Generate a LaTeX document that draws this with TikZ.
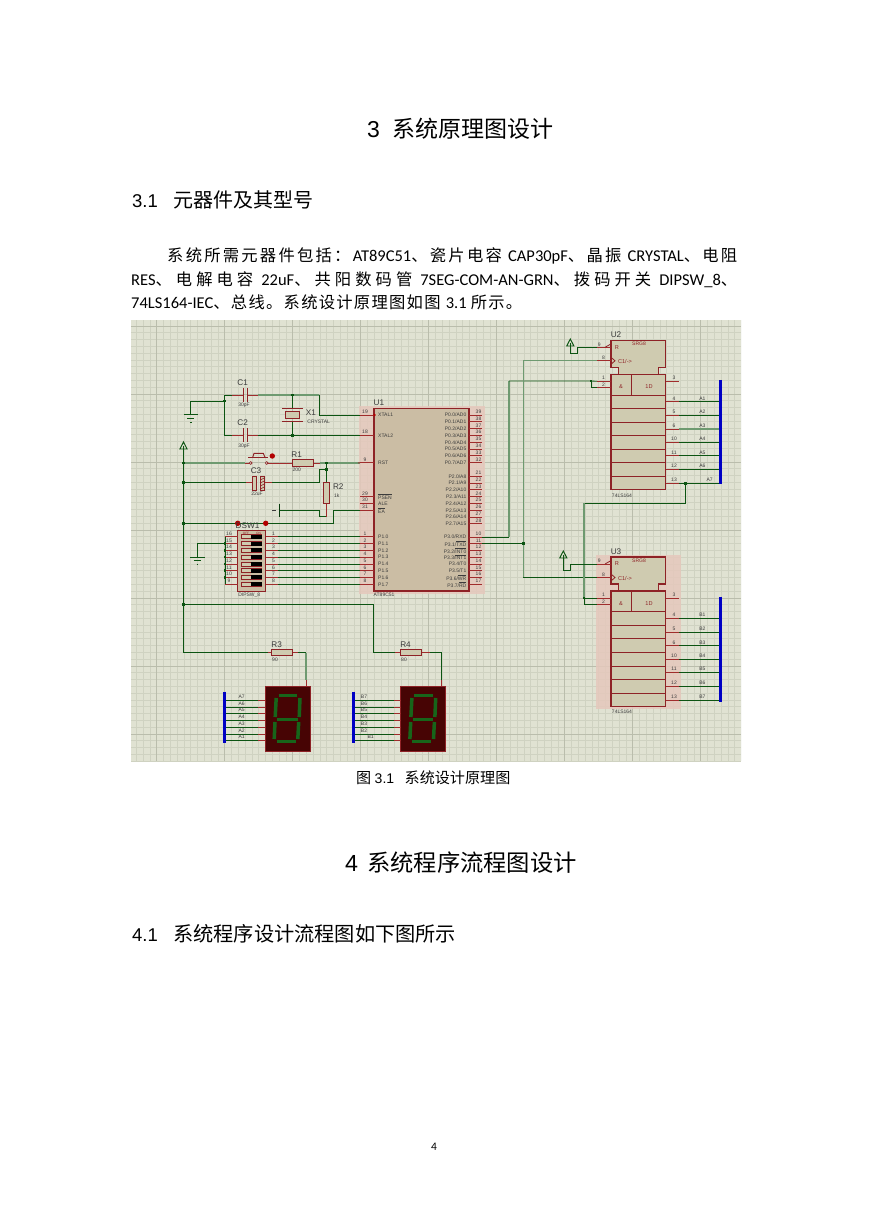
\documentclass[tikz,border=0pt]{standalone}
\usepackage{fontspec}
\usetikzlibrary{calc}
\setmainfont{Carlito}
\newfontfamily\cjkf{Noto Sans CJK SC}
\newfontfamily\schf{Liberation Sans}
\newcommand{\fsz}[1]{\fontsize{#1}{#1}\selectfont}
\newcommand{\zh}[1]{{\cjkf #1}}
\def\zsloop#1{\ifx#1\relax\else#1\hskip 0pt plus 1pt\relax\expandafter\zsloop\fi}
\newcommand{\zs}[1]{{\cjkf\fsz{16.3}\zsloop#1\relax}}
\definecolor{bgc}{HTML}{E0E2D2}
\definecolor{gridm}{HTML}{CFD2C1}
\definecolor{gridM}{HTML}{BABDAC}
\definecolor{wirec}{HTML}{0C5412}
\definecolor{wirep}{HTML}{6E9A70}
\definecolor{pinc}{HTML}{A02C2C}
\definecolor{edgec}{HTML}{8E2226}
\definecolor{chipa}{HTML}{CBBDA4}
\definecolor{chipb}{HTML}{CFCBB0}
\definecolor{busc}{HTML}{0000C4}
\definecolor{labc}{HTML}{3C3C3C}
\definecolor{segbg}{HTML}{470404}
\definecolor{segon}{HTML}{17651A}
\definecolor{haloc}{HTML}{E5C8BC}
\tikzset{
 wire/.style={draw=wirec,line width=0.85pt},
 palewire/.style={draw=wirep,line width=1.2pt},
 pinl/.style={draw=pinc,line width=0.9pt},
 busl/.style={draw=busc,line width=3pt},
 chip/.style={draw=edgec,line width=1.1pt,fill=chipb},
 comp/.style={draw=edgec,line width=1pt,fill=chipb},
 plate/.style={draw=edgec,line width=1.1pt},
 halo/.style={fill=haloc,draw=none,opacity=.85},
 ptiny/.style={font=\schf\fsz{5},text=labc,inner sep=0pt},
 psmall/.style={font=\schf\fsz{5.6},text=labc,inner sep=0pt},
 reflab/.style={font=\schf\fsz{8.2},text=labc,inner sep=0pt},
 para/.style={anchor=west,inner sep=0pt,text=black},
 rdot/.style={fill=red!70!black,draw=none},
}
\newcommand{\pwr}[3]{% name, x, y of base
 \coordinate (#1) at (#2,#3);
 \draw[wirec,line width=0.95pt] (#2,#3-7) -- (#2+3.6,#3) -- (#2-3.6,#3) -- cycle;
 \draw[wirec,line width=0.6pt] (#2,#3-3.5) -- (#2,#3);
}
\newcommand{\gndsym}[3]{%
 \coordinate (#1) at (#2,#3);
 \draw[wirec,line width=0.8pt] (#2-7.2,#3) -- (#2+7.2,#3);
 \draw[wirec,line width=0.8pt] (#2-3.4,#3+3.7) -- (#2+3.4,#3+3.7);
 \draw[wirec,line width=0.8pt] (#2-0.8,#3+7.2) -- (#2+0.8,#3+7.2);
}
\newcommand{\sevenseg}[3]{% name x y (top-left)
 \node[draw=edgec,fill=segbg,line width=0.6pt,minimum width=45pt,minimum height=65pt,inner sep=0pt,outer sep=0pt,anchor=north west] (#1) at (#2,#3) {};
 \begin{scope}[shift={(#2,#3)},segon,line width=3.5pt]
  \draw (13.5,9.3) -- (32.3,9.3);
  \draw (12,33.3) -- (32.5,33.3);
  \draw (11.5,55.7) -- (30.5,55.7);
  \draw (11.2,12) -- (10.2,31);
  \draw (10,36) -- (9.2,53);
  \draw (35,12) -- (34.2,31);
  \draw (33.7,36) -- (32.8,53);
 \end{scope}
}
\newcommand{\srchip}[2]{% name, top y
 \begin{scope}[shift={(611,#2)}]
  \draw[chip] (0,0) -- (54.7,0) -- (54.7,27) -- (47.3,27) -- (47.3,34) -- (7.3,34) -- (7.3,27) -- (0,27) -- cycle;
  \draw[chip] (0,34) rectangle (54.7,149.5);
  \draw[edgec,line width=1.1pt] (20.7,34) -- (20.7,54.7);
  \foreach \r in {54.7,68.3,81.7,95.3,109,122.5,136} \draw[edgec,line width=1pt] (0,\r) -- (54.7,\r);
  \foreach \n/\y in {9/7,8/20.5,1/41,2/47.5}{
   \draw[pinl] (-14,\y) coordinate (#1l\n) -- (0,\y);
  }
  \foreach \n/\y in {3/41,4/61.4,5/75,6/88.7,10/102,11/115.6,12/129.3,13/143}{
   \draw[pinl] (54.7,\y) -- (68,\y) coordinate (#1r\n);
   \node[ptiny] (#1nr\n) at (63,\y-3.4) {\n};
  }
  \node[ptiny] (#1n9) at (-11.7,4) {9};
  \node[ptiny] (#1n8) at (-7.5,17.6) {8};
  \node[ptiny] (#1n1) at (-7.5,37.8) {1};
  \node[ptiny] (#1n2) at (-7.5,44.6) {2};
  \draw[edgec,line width=0.8pt] (-6,7) -- (0,3.6) -- (0,7);
  \draw[edgec,line width=0.8pt] (0,17) -- (4,20.5) -- (0,24);
  \node[psmall,text=edgec] (#1R) at (6,7) {R};
  \node[ptiny,text=edgec] (#1srg) at (28,3.6) {SRG8};
  \node[psmall,text=edgec] (#1clk) at (14,21) {C1/->};
  \node[psmall,text=edgec] (#1and) at (10,46.7) {\&};
  \node[psmall,text=edgec] (#1od) at (38,46.7) {1D};
  \node[ptiny] (#1part) at (11,155) {74LS164};
  \node[reflab] (#1name) at (5,-5.6) {#1};
 \end{scope}
}
\begin{document}
\begin{tikzpicture}[x=1pt,y=-1pt]
\useasboundingbox (0,0) rectangle (869,1228);
\fill[white] (0,0) rectangle (869,1228);

% ---------- text
\node[para,font=\fsz{23}] (h1) at (367,129) {{\schf 3}\hspace{13pt}\zh{系统原理图设计}};
\node[para,font=\fsz{20}] (h2) at (132,200) {{\schf\fsz{18.5}3.1}\hspace{15.3pt}\zh{元器件及其型号}};
\node[para,font=\fsz{16.5}] (p1) at (167,255.5) {\makebox[570pt][s]{\spaceskip=4pt\zs{系统所需元器件包括：}AT89C51\zs{、瓷片电容} CAP30pF\zs{、晶振} CRYSTAL\zs{、电}\zh{\fsz{16.3}阻}}};
\node[para,font=\fsz{16.5}] (p2) at (131,280) {\makebox[606pt][s]{\spaceskip=4pt RES\zs{、电解电容} 22uF\zs{、共阳数码管} 7SEG-COM-AN-GRN\zs{、拨码开关} DIPSW\_8\zh{\fsz{16.3}、}}};
\node[para,font=\fsz{16.5}] (p3) at (131,302.5) {\makebox[391pt][s]{\spaceskip=4pt 74LS164-IEC\zs{、总线。系统设计原理图如图} 3.1 \zs{所示}\zh{\fsz{16.3}。}}};
\node[para,font=\fsz{15.1}] (cap) at (356,778) {\zh{图} {\schf\fsz{14}3.1}\hspace{10.5pt}\zh{系统设计原理图}};
\node[para,font=\fsz{23.3}] (h3) at (345,863) {{\schf 4}\hspace{9pt}\zh{系统程序流程图设计}};
\node[para,font=\fsz{20.2}] (h4) at (132,934) {{\schf\fsz{18.5}4.1}\hspace{15.3pt}\zh{系统程序设计流程图如下图所示}};
\node[font=\fsz{11.5},inner sep=0pt] (pg) at (434,1146.5) {4};

% ---------- sheet and grid
\fill[bgc] (131,320) rectangle (741,761);
\begin{scope}
\clip (131,320) rectangle (741,761);
\foreach \k in {-4,...,86} \draw[gridm,line width=0.65pt] ({156.7+6.8*\k},320) -- ({156.7+6.8*\k},761);
\foreach \k in {-1,...,64} \draw[gridm,line width=0.65pt] (131,{326+6.8*\k}) -- (741,{326+6.8*\k});
\foreach \k in {0,...,8} \draw[gridM,line width=1pt] ({156.7+68*\k},320) -- ({156.7+68*\k},761);
\foreach \k in {0,...,6} \draw[gridM,line width=1pt] (131,{326+68*\k}) -- (741,{326+68*\k});
\end{scope}

% ---------- highlight halos
\fill[halo] (359.3,406) rectangle (485,594);
\fill[halo] (595.7,555) rectangle (680.7,709);

% ---------- U1
\node[chip,fill=chipa,minimum width=95pt,minimum height=182.7pt,inner sep=0pt,outer sep=0pt,anchor=north west] (U1) at (374,408.3) {};
\node[reflab,anchor=west] (U1name) at (373.5,403) {U1};
\node[ptiny,anchor=west] (U1part) at (373.5,595) {AT89C51};
\foreach \n/\y/\t in {19/415/XTAL1,18/435.3/XTAL2,9/462.7/RST,29/496.7/{$\overline{\mbox{PSEN}}$},30/503.3/ALE,31/510.3/{$\overline{\mbox{EA}}$},1/536.7/P1.0,2/543.7/P1.1,3/550.3/P1.2,4/557/P1.3,5/564/P1.4,6/570.7/P1.5,7/577.3/P1.6,8/584.3/P1.7}{
 \draw[pinl] (360,\y) coordinate (u1l\n) -- (374,\y);
 \node[ptiny] (u1ln\n) at (365,\y-3.4) {\n};
 \node[ptiny,anchor=west] (u1lt\n) at (378,\y) {\t};
}
\foreach \n/\y/\t in {39/415/{P0.0/AD0},38/421.7/{P0.1/AD1},37/428.7/{P0.2/AD2},36/435.3/{P0.3/AD3},35/442.3/{P0.4/AD4},34/449/{P0.5/AD5},33/455.7/{P0.6/AD6},32/462.7/{P0.7/AD7},21/476.3/{P2.0/A8},22/483/{P2.1/A9},23/489.7/{P2.2/A10},24/496.7/{P2.3/A11},25/503.3/{P2.4/A12},26/510.3/{P2.5/A13},27/517/{P2.6/A14},28/523.7/{P2.7/A15},10/537/{P3.0/RXD},11/543.7/{P3.1/$\overline{\mbox{TXD}}$},12/550.3/{P3.2/$\overline{\mbox{INT0}}$},13/557/{P3.3/$\overline{\mbox{INT1}}$},14/564/{P3.4/T0},15/570.7/{P3.5/T1},16/577.3/{P3.6/$\overline{\mbox{WR}}$},17/584.3/{P3.7/$\overline{\mbox{RD}}$}}{
 \draw[pinl] (469,\y) -- (482.3,\y) coordinate (u1r\n);
 \node[ptiny] (u1rn\n) at (478.5,\y-3.4) {\n};
 \node[ptiny,anchor=east] (u1rt\n) at (466.5,\y) {\t};
}
\fill[red!70!black] (374.5,415) circle (1.3pt);

% ---------- shift registers
\srchip{U2}{340.3}
\srchip{U3}{557}

% ---------- buses
\coordinate (ba1) at (720,380); \coordinate (ba2) at (720,484.3);
\coordinate (bb1) at (720,596.7); \coordinate (bb2) at (720,702);
\coordinate (bc1) at (224.7,691.7); \coordinate (bc2) at (224.7,742.7);
\coordinate (bd1) at (353.7,691.7); \coordinate (bd2) at (353.7,742.7);

\foreach \n/\i in {4/1,5/2,6/3,10/4,11/5,12/6,13/7}{
 \draw[wire] (U2r\n) -- (U2r\n -| ba1);
 \draw[wire] (U3r\n) -- (U3r\n -| bb1);
}
\foreach \n/\i in {4/1,5/2,6/3,10/4,11/5,12/6}{
 \node[ptiny] (la\i) at ($(U2r\n -| ba1)+(-17.7,-3.4)$) {A\i};
}
\foreach \n/\i in {4/1,5/2,6/3,10/4,11/5,12/6,13/7}{
 \node[ptiny] (lb\i) at ($(U3r\n -| bb1)+(-17.7,-3.4)$) {B\i};
}
\node[ptiny] (la7) at ($(U2r13 -| ba1)+(-10.3,-3.4)$) {A7};
\draw[palewire] (U2r6) -- (U2r6 -| ba1);

% ---------- crystal and load capacitors
\coordinate (c1L) at (231.7,395); \coordinate (c1R) at (258.3,395);
\coordinate (c2L) at (231.7,435.3); \coordinate (c2R) at (258.3,435.3);
\coordinate (jt) at (292.7,395); \coordinate (jb) at (292.7,435.3);
\coordinate (jg) at (224.3,401);
\coordinate (xtop) at (292.7,408.3); \coordinate (xbot) at (292.7,421.7);
\gndsym{g1}{190.7}{414.7}
\draw[wire] (jg) -- (190.7,401) -- (g1);
\draw[wire] (c1L) -- (224.3,395) -- (224.3,435.3) -- (c2L);
\draw[palewire] (c1R) -- (jt) -- (319.3,395);
\draw[wire] (319.3,395) -- (319.3,415) -- (u1l19);
\draw[wire] (c2R) -- (jb) -- (u1l18);
\draw[wire] (jt) -- (xtop); \draw[wire] (xbot) -- (jb);
\foreach \yy/\nm in {395/C1,435.3/C2}{
 \draw[pinl] (231.7,\yy) -- (243.3,\yy); \draw[pinl] (247.3,\yy) -- (258.3,\yy);
 \draw[plate] (243.3,\yy-7) -- (243.3,\yy+7); \draw[plate] (247.3,\yy-7) -- (247.3,\yy+7);
 \node[reflab] (lb\nm) at (242.7,\yy-12.5) {\nm};
 \node[ptiny] (val\nm) at (244,\yy+10.5) {30pF};
}
\draw[plate] (282.3,408.3) -- (302.7,408.3); \draw[plate] (282.3,421.7) -- (302.7,421.7);
\node[comp,minimum width=14.3pt,minimum height=6.6pt,inner sep=0pt,outer sep=0pt] (X1) at (292.8,415) {};
\node[reflab] (X1n) at (311,412.7) {X1};
\node[ptiny] (X1v) at (318.7,421.7) {CRYSTAL};

% ---------- reset network
\pwr{p1}{183.5}{449}
\coordinate (jr1) at (183.5,463); \coordinate (jr2) at (183.5,482.7);
\coordinate (jr3) at (183.5,523.3); \coordinate (jr4) at (183.5,604.3);
\coordinate (btnL) at (250.7,463); \coordinate (btnR) at (266.7,463);
\coordinate (r1L) at (292.3,463); \coordinate (r1R) at (313.3,463);
\coordinate (jrst) at (326.3,463); \coordinate (jr2t) at (326.3,469.7);
\coordinate (r3L) at (271.7,652.7); \coordinate (r3R) at (292.7,652.7);
\coordinate (r4L) at (400.7,652.7); \coordinate (r4R) at (421.3,652.7);
\draw[wire] (p1) -- (jr1) -- (jr2) -- (jr3) -- (jr4) -- (183.5,652.7) -- (r3L);
\draw[palewire] (jr1) -- (245,463);
\draw[pinl] (245,463) -- (btnL);
\draw[pinl] (btnR) -- (r1L);
\draw[pinl] (r1R) -- (320,463);
\draw[palewire] (320,463) -- (jrst) -- (360,463);
\draw[pinl] (358,463) -- (u1l9);
\draw[edgec,line width=0.9pt] (248.3,457.3) -- (268.3,457.3);
\draw[edgec,line width=0.9pt] (252.7,457.3) -- (254,453.3) -- (263.3,453.3) -- (265,457.3);
\draw[edgec,fill=bgc,line width=0.6pt] (btnL) circle (1.4pt) (btnR) circle (1.4pt);
\fill[rdot] (272.3,456) circle (2.7pt);
\node[comp,minimum width=21pt,minimum height=6.4pt,inner sep=0pt,outer sep=0pt,anchor=west] (R1) at (r1L) {};
\node[reflab] (R1n) at (296.7,454.7) {R1};
\node[ptiny] (R1v) at (296.7,469.7) {200};

\coordinate (c3L) at (252.3,482.7); \coordinate (c3R) at (264.3,482.7);
\draw[wire] (jr2) -- (c3L);
\draw[wire] (c3R) -- (319.3,482.7) -- (319.3,469.7) -- (jr2t);
\draw[pinl] (246,482.7) -- (c3L); \draw[pinl] (c3R) -- (272,482.7);
\draw[comp] (252.3,476) rectangle (256.7,490);
\draw[comp,fill=chipb] (260.3,476) rectangle (264.3,490);
\foreach \q in {478,481,484,487}{\draw[edgec,line width=0.6pt] (260.3,\q+2) -- (264.3,\q);}
\node[reflab] (C3n) at (256,470.7) {C3};
\node[ptiny] (C3v) at (257,494) {22uF};

\coordinate (r2T) at (326.3,482.7); \coordinate (r2B) at (326.3,503.3);
\draw[wire] (jrst) -- (r2T);
\draw[pinl] (r2B) -- (326.3,516.7);
\draw[wire] (326.3,516.7) -- (319.3,516.7) -- (319.3,510.3) -- (279,510.3);
\node[comp,minimum width=6pt,minimum height=20.6pt,inner sep=0pt,outer sep=0pt,anchor=north] (R2) at (r2T) {};
\node[reflab] (R2n) at (338.3,487) {R2};
\node[ptiny] (R2v) at (336.7,495.7) {1k};
\draw[wirec!70!black,line width=0.9pt] (279,503.5) -- (279,516.8);
\draw[labc,line width=0.9pt] (275.5,510.3) -- (272,510.3);

\draw[wire] (jr3) -- (333.3,523.3) -- (333.3,510.3) -- (u1l31);
\fill[rdot] (237.7,523.3) circle (2.7pt);
\fill[rdot] (265.7,523.3) circle (2.7pt);

% ---------- DIP switch
\node[draw=edgec,fill=chipa,line width=1.1pt,minimum width=28pt,minimum height=61pt,inner sep=0pt,outer sep=0pt,anchor=north west] (DSW) at (237.7,530.7) {};
\node[reflab] (DSWn) at (247.5,526) {DSW1};
\node[ptiny] (DSWv) at (249.3,595.3) {DIPSW\_8};
\node[ptiny,text=edgec,font=\schf\fsz{3.2}] (doff) at (246,533.5) {OFF};
\node[ptiny,text=edgec,font=\schf\fsz{3.2}] (don) at (258.5,533.5) {ON};
\foreach \k/\l/\y in {1/16/536.7,2/15/543.7,3/14/550.3,4/13/557,5/12/564,6/11/570.7,7/10/577.3,8/9/584.3}{
 \draw[comp,fill=chipb,line width=0.7pt] (241.7,\y-2) rectangle (261.7,\y+2);
 \fill[black] (251,\y-2) rectangle (261.7,\y+2);
 \draw[pinl] (225,\y) coordinate (dl\k) -- (237.7,\y);
 \draw[pinl] (265.7,\y) -- (278.3,\y) coordinate (dr\k);
 \node[ptiny] (dln\k) at (229,\y-3.4) {\l};
 \node[ptiny] (drn\k) at (273.5,\y-3.4) {\k};
 \draw[wire] (dr\k) -- (u1l\k);
}
\draw[wire] (dl1) -- (dl8);
\gndsym{g2}{197.3}{557}
\draw[wire] (dl2) -- (197.3,543.7) -- (g2);

% ---------- serial wiring
\coordinate (jclk) at (523.3,543.7);
\coordinate (jd2) at (591,381);
\coordinate (jq) at (685.7,483.3);
\coordinate (jd3) at (584,598);
\draw[wire] (u1r10) -- (509,537);
\draw[palewire] (509,537) -- (509,381);
\draw[wire] (509,381) -- (jd2) -- (U2l1);
\draw[wire] (jd2) -- (591,387.8) -- (U2l2);
\draw[wire] (u1r11) -- (jclk);
\draw[palewire] (523.3,577.5) -- (jclk) -- (523.3,360.8);
\draw[palewire] (523.3,360.8) -- (U2l8);
\draw[wire] (523.3,577.5) -- (U3l8);
\draw[wire] (jq) -- (685.7,503.3) -- (584,503.3);
\draw[palewire] (584,503.3) -- (jd3);
\draw[wire] (jd3) -- (584,604.5) -- (U3l2);
\draw[wire] (jd3) -- (U3l1);

% ---------- power terminals of registers
\pwr{p2}{570.3}{346}
\draw[wire] (p2) -- (570.3,353.3) -- (577.3,353.3) -- (577.3,347.3) -- (U2l9);
\pwr{p3}{563.3}{558}
\draw[wire] (p3) -- (563.3,570.7) -- (570.7,570.7) -- (570.7,564) -- (U3l9);

% ---------- displays
\draw[wire] (jr4) -- (373.3,604.3) -- (373.3,652.7) -- (r4L);
\draw[pinl] (r3L) ++(-4,0) -- (r3L);
\draw[pinl] (r4L) ++(-6,0) -- (r4L);
\draw[pinl] (r3R) -- (298,652.7);
\draw[wire] (298,652.7) -- (306,652.7);
\draw[palewire] (306,652.7) -- (306,680);
\draw[pinl] (306,680) -- (306,686);
\draw[pinl] (r4R) -- (430,652.7);
\draw[wire] (430,652.7) -- (441.3,652.7) -- (441.3,680);
\draw[pinl] (441.3,680) -- (441.3,686);
\node[comp,minimum width=21pt,minimum height=6.4pt,inner sep=0pt,outer sep=0pt,anchor=west] (R3) at (r3L) {};
\node[comp,minimum width=20.6pt,minimum height=6.4pt,inner sep=0pt,outer sep=0pt,anchor=west] (R4) at (r4L) {};
\node[reflab] (R3n) at (276.7,644.5) {R3};
\node[ptiny] (R3v) at (275,659.5) {90};
\node[reflab] (R4n) at (405.5,644.5) {R4};
\node[ptiny] (R4v) at (404,659.5) {80};
\sevenseg{S1}{265}{686}
\sevenseg{S2}{400.7}{686}
\foreach \k/\y in {7/700.3,6/707,5/713.7,4/720.3,3/727.3,2/734,1/740.7}{
 \coordinate (sa\k) at (265,\y); \coordinate (sb\k) at (400.7,\y);
 \draw[wire] (sa\k -| bc1) -- (258.3,\y); \draw[pinl] (258.3,\y) -- (sa\k);
 \draw[wire] (sb\k -| bd1) -- (394,\y); \draw[pinl] (394,\y) -- (sb\k);
 \node[ptiny] (lc\k) at (241.7,\y-3.6) {A\k};
}
\foreach \k/\y/\xx in {7/700.3/364,6/707/364,5/713.7/364,4/720.3/364,3/727.3/364,2/734/364,1/740.7/370.7}{
 \node[ptiny] (ld\k) at (\xx,\y-3.6) {B\k};
}

\draw[busl] (ba1) -- (ba2);
\draw[busl] (bb1) -- (bb2);
\draw[busl] (bc1) -- (bc2);
\draw[busl] (bd1) -- (bd2);

% ---------- junction dots
\foreach \c in {jt,jb,jg,jr1,jr2,jr3,jr4,jrst,jr2t,jclk,jd2,jq,jd3,dl2,dl3,dl4,dl5,dl6,dl7}{
 \fill[wirec] ($(\c)+(-1.3,-1.3)$) rectangle ($(\c)+(1.3,1.3)$);
}
\end{tikzpicture}
\end{document}
